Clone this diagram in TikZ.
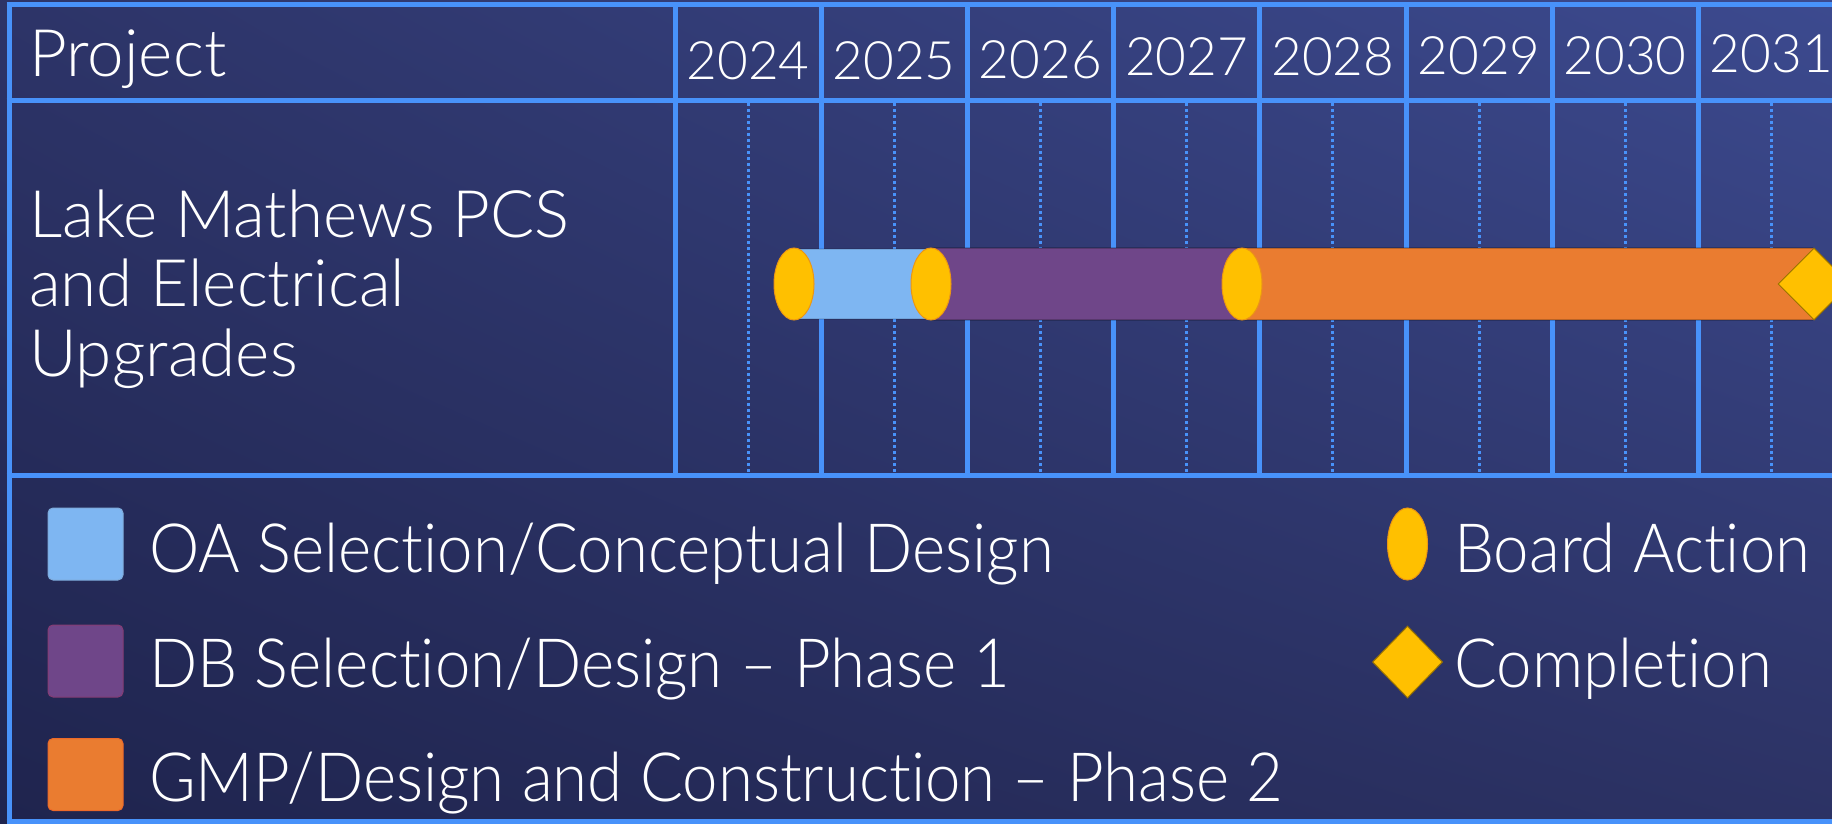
\documentclass[tikz,border=0pt]{standalone}
\usepackage{fontspec}
\setmainfont{Lato Light}[Ligatures=NoCommon]
\newfontfamily\legfont{Lato Light}[Ligatures=NoCommon,FakeStretch=0.935]
\usetikzlibrary{shapes.geometric,shadings}
\definecolor{gridblue}{RGB}{72,146,250}
\definecolor{oablue}{RGB}{126,182,242}
\definecolor{dbpurple}{RGB}{111,70,137}
\definecolor{gmporange}{RGB}{234,124,48}
\definecolor{gold}{RGB}{255,192,0}
\definecolor{goldedge}{RGB}{235,150,20}
\definecolor{bgUL}{RGB}{45,52,104}
\definecolor{bgUR}{RGB}{60,74,143}
\definecolor{bgLL}{RGB}{31,36,78}
\definecolor{bgLR}{RGB}{44,50,100}
\begin{document}
\begin{tikzpicture}[x=1pt,y=-1pt,
  gridline/.style={draw=gridblue,line width=5pt},
  midline/.style={draw=gridblue,line width=3pt,dash pattern=on 3pt off 3pt},
  barfill/.style={draw=black,draw opacity=0.2,line width=1.5pt},
  boardact/.style={ellipse,fill=gold,draw=goldedge,line width=1pt,minimum width=40pt,minimum height=72pt,inner sep=0pt},
  compl/.style={diamond,fill=gold,draw=gold!60!black,line width=1pt,minimum width=72pt,minimum height=72pt,inner sep=0pt},
  yeartext/.style={text=white,font=\fontsize{53}{60}\selectfont,inner sep=0pt,anchor=base},
  headtext/.style={text=white,font=\fontsize{65.5}{72}\selectfont,inner sep=0pt,anchor=base west},
  legtext/.style={text=white,font=\legfont\fontsize{68}{76}\selectfont,inner sep=0pt,anchor=base west},
  legbox/.style={rounded corners=5pt,minimum width=75pt,minimum height=72pt,inner sep=0pt,line width=1pt}
]
\useasboundingbox (0,0) rectangle (1832,824);
\shade[upper left=bgUL,upper right=bgUR,lower left=bgLL,lower right=bgLR] (0,0) rectangle (1832,824);

% dotted mid-year lines
\foreach \i in {0,...,7}{
  \draw[midline] (748+146.2*\i,103) -- (748+146.2*\i,473);
}
% solid grid
\draw[gridline] (9,2) -- (9,824);
\draw[gridline] (6.5,4.5) -- (1832,4.5);
\draw[gridline] (6.5,101) -- (1832,101);
\draw[gridline] (6.5,475) -- (1832,475);
\draw[gridline] (6.5,821) -- (1832,821);
\foreach \i in {0,...,7}{
  \draw[gridline] (675+146.2*\i,4.5) -- (675+146.2*\i,475);
}

% header texts
\node[headtext] (proj) at (29,77) {Project};
\node[yeartext] (y2024) at (748,80) {2024};
\node[yeartext] (y2025) at (894.2,80) {2025};
\node[yeartext] (y2026) at (1040.4,79) {2026};
\node[yeartext] (y2027) at (1186.6,76) {2027};
\node[yeartext] (y2028) at (1332.8,76) {2028};
\node[yeartext] (y2029) at (1479,75) {2029};
\node[yeartext] (y2030) at (1625.2,75) {2030};
\node[yeartext] (y2031) at (1771.4,73) {2031};

% project name
\node[headtext] (name1) at (29,237) {Lake Mathews PCS};
\node[headtext] (name2) at (29,306) {and Electrical};
\node[headtext] (name3) at (29,376) {Upgrades};

% bars
\fill[gmporange] (1242,248) rectangle (1813,320);
\draw[barfill] (1242,248) -- (1813,248) (1242,320) -- (1813,320);
\fill[dbpurple] (931,248) rectangle (1242,320);
\draw[barfill] (931,248) -- (1242,248) (931,320) -- (1242,320);
\fill[oablue] (794,249) rectangle (931,319);
\draw[barfill,draw opacity=0.1] (794,249) -- (931,249) (794,319) -- (931,319);

\node[boardact] (ba1) at (794,284) {};
\node[boardact] (ba2) at (931,284) {};
\node[boardact] (ba3) at (1242,284) {};
\node[compl] (done) at (1814,284) {};

% legend
\node[legbox,fill=oablue,draw=oablue!80!gray] (lg1) at (85.5,544) {};
\node[legbox,fill=dbpurple,draw=dbpurple!85!red] (lg2) at (85.5,661) {};
\node[legbox,fill=gmporange,draw=gmporange!85!red] (lg3) at (85.5,774.5) {};
\node[legtext] (lt1) at (149,572) {OA Selection/Conceptual Design};
\node[legtext] (lt2) at (149,687) {DB Selection/Design \textendash{} Phase 1};
\node[legtext] (lt3) at (149,801) {GMP/Design and Construction \textendash{} Phase 2};

\node[boardact] (lgba) at (1407.5,544) {};
\node[compl,minimum width=70pt,minimum height=72pt] (lgdone) at (1407.5,662) {};
\node[legtext] (lt4) at (1454,572) {Board Action};
\node[legtext] (lt5) at (1454,687) {Completion};
\end{tikzpicture}
\end{document}
